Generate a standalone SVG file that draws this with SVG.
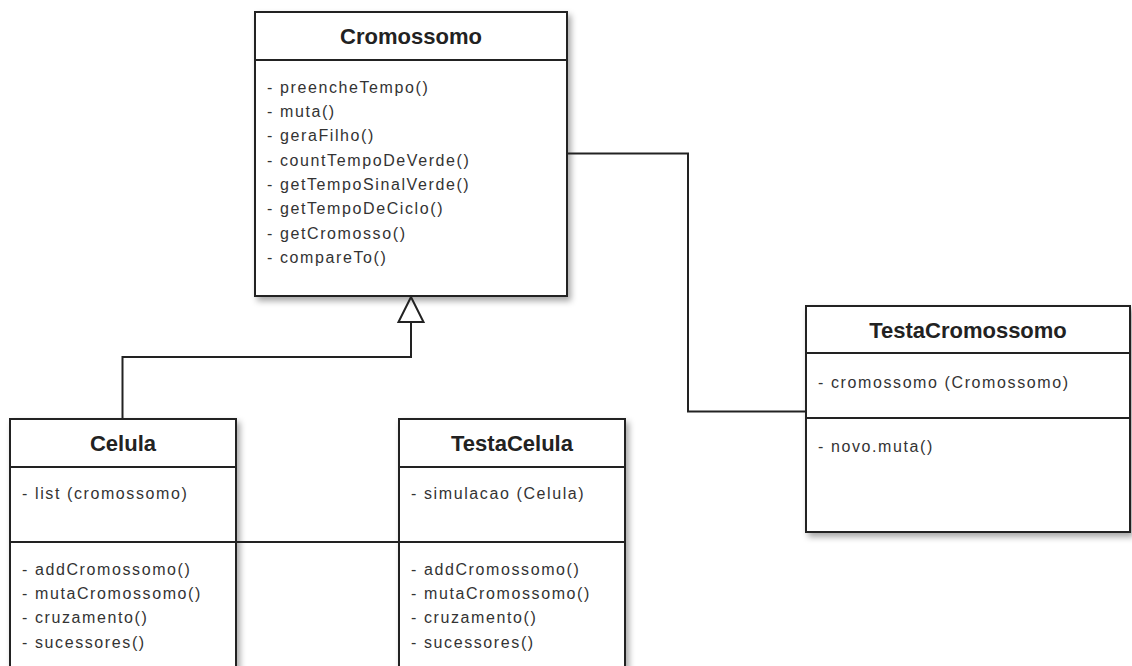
<svg xmlns="http://www.w3.org/2000/svg" width="1132" height="666" viewBox="0 0 1132 666">
  <style>
    .box { fill: #ffffff; stroke: #222222; stroke-width: 2; }
    .div { stroke: #222222; stroke-width: 2; fill: none; }
    .edge { stroke: #222222; stroke-width: 2; fill: none; }
    .title { font-family: "Liberation Sans", Arial, sans-serif; font-size: 22px; font-weight: bold; fill: #222222; text-anchor: middle; }
    .member { font-family: "Liberation Sans", Arial, sans-serif; font-size: 16px; fill: #333333; letter-spacing: 1.6px; }
  </style>
  <defs>
    <filter id="shadow" x="-10%" y="-10%" width="130%" height="130%">
      <feDropShadow dx="3" dy="4" stdDeviation="3" flood-color="#000000" flood-opacity="0.35"/>
    </filter>
  </defs>
  <rect width="1132" height="666" fill="#ffffff"/>

  <!-- class boxes -->
  <g id="cromossomo">
    <rect class="box" x="255" y="12" width="312" height="284" filter="url(#shadow)"/>
    <line class="div" x1="255" y1="60" x2="567" y2="60"/>
    <text class="title" x="411" y="44">Cromossomo</text>
    <text class="member" x="267" y="93">- preencheTempo()</text>
    <text class="member" x="267" y="117">- muta()</text>
    <text class="member" x="267" y="141">- geraFilho()</text>
    <text class="member" x="267" y="166">- countTempoDeVerde()</text>
    <text class="member" x="267" y="190">- getTempoSinalVerde()</text>
    <text class="member" x="267" y="214">- getTempoDeCiclo()</text>
    <text class="member" x="267" y="239">- getCromosso()</text>
    <text class="member" x="267" y="263">- compareTo()</text>
  </g>

  <g id="testaCromossomo">
    <rect class="box" x="806" y="306" width="324" height="226" filter="url(#shadow)"/>
    <line class="div" x1="806" y1="353" x2="1130" y2="353"/>
    <line class="div" x1="806" y1="418" x2="1130" y2="418"/>
    <text class="title" x="968" y="338">TestaCromossomo</text>
    <text class="member" x="818" y="388">- cromossomo (Cromossomo)</text>
    <text class="member" x="818" y="452">- novo.muta()</text>
  </g>

  <g id="celula">
    <rect class="box" x="10" y="419" width="226" height="270" filter="url(#shadow)"/>
    <line class="div" x1="10" y1="467" x2="236" y2="467"/>
    <line class="div" x1="10" y1="542" x2="236" y2="542"/>
    <text class="title" x="123" y="451">Celula</text>
    <text class="member" x="22" y="499">- list (cromossomo)</text>
    <text class="member" x="22" y="575">- addCromossomo()</text>
    <text class="member" x="22" y="599">- mutaCromossomo()</text>
    <text class="member" x="22" y="623">- cruzamento()</text>
    <text class="member" x="22" y="648">- sucessores()</text>
  </g>

  <g id="testaCelula">
    <rect class="box" x="399" y="419" width="226" height="270" filter="url(#shadow)"/>
    <line class="div" x1="399" y1="467" x2="625" y2="467"/>
    <line class="div" x1="399" y1="542" x2="625" y2="542"/>
    <text class="title" x="512" y="451">TestaCelula</text>
    <text class="member" x="411" y="499">- simulacao (Celula)</text>
    <text class="member" x="411" y="575">- addCromossomo()</text>
    <text class="member" x="411" y="599">- mutaCromossomo()</text>
    <text class="member" x="411" y="623">- cruzamento()</text>
    <text class="member" x="411" y="648">- sucessores()</text>
  </g>

  <!-- connectors -->
  <g id="connectors">
    <!-- generalization: Celula to Cromossomo -->
    <polyline class="edge" points="122.5,419 122.5,357 411,357 411,322"/>
    <polygon class="edge" fill="#ffffff" points="411,297 398.5,322 423.5,322"/>
    <!-- association: Cromossomo to TestaCromossomo -->
    <polyline class="edge" points="567,153.5 688,153.5 688,411.5 806,411.5"/>
    <!-- association: Celula to TestaCelula -->
    <line class="edge" x1="236" y1="542" x2="399" y2="542"/>
  </g>
</svg>
